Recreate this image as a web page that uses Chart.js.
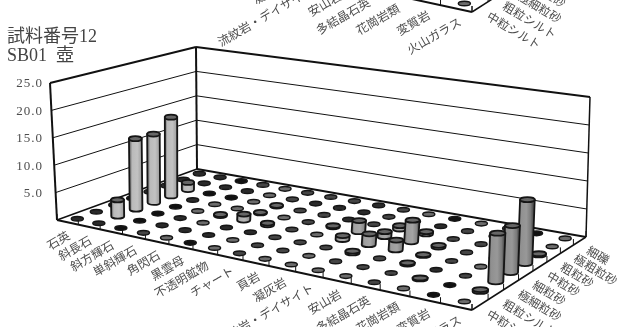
<!DOCTYPE html>
<html>
<head>
<meta charset="utf-8">
<style>
    html, body { margin: 0; padding: 0; background: #fff; overflow: hidden; }
    canvas { display: block; }
</style>
<script src="https://cdn.jsdelivr.net/npm/chart.js@4/dist/chart.umd.min.js"></script>
</head>
<body>
<canvas id="chart" width="619" height="327"></canvas>
<script>
// categories along the front edge, depths going from the front to the back
const categories = ["石英", "斜長石", "斜方輝石", "単斜輝石", "角閃石", "黒雲母", "不透明鉱物", "チャート", "頁岩", "凝灰岩", "流紋岩・デイサイト", "安山岩", "多結晶石英", "花崗岩類", "変質岩", "火山ガラス"];
const depths = ["中粒シルト", "粗粒シルト", "極細粒砂", "細粒砂", "中粒砂", "粗粒砂", "極粗粒砂", "細礫"];

// percent per grain size
const churyuSilt  = [0.03, 0.03, 0, 0.05, 0.08, 0, 0.08, 0.05, 0.08, 0.08, 0.08, 0.08, 0.05, 0.08, 0, 0.08];
const soryuSilt   = [0.03, 3, 0, 0.03, 0.03, 0.03, 0.08, 0.05, 0.05, 0.08, 0.05, 0.05, 0.05, 0.15, 0, 0.3];
const gokusairyu  = [0, 13.2, 0, 0.03, 0.08, 0.03, 0.03, 0.05, 0.05, 0.05, 0.3, 0.05, 0.2, 0.03, 0.05, 7.8];
const sairyu      = [0, 13, 0, 0.08, 0.2, 1.1, 0.3, 0.05, 0.08, 0.7, 1.9, 1.7, 0.12, 0.05, 0.08, 7.7];
const churyu      = [0.03, 15.2, 0.03, 0.08, 0.08, 0.12, 0.08, 0.05, 0.2, 2, 0.9, 3.8, 0.3, 0.05, 0.08, 10.7];
const soryu       = [0.03, 1.4, 0, 0, 0.08, 0.12, 0.05, 0.05, 0.03, 0.05, 0.6, 0.4, 0.05, 0.05, 0.05, 0.2];
const gokusoryu   = [0.03, 0.03, 0.03, 0.03, 0.08, 0.05, 0.03, 0.03, 0.03, 0.05, 0.05, 0.03, 0.05, 0.03, 0.08, 0.08];
const saireki     = [0.03, 0.03, 0, 0.05, 0.08, 0.05, 0.05, 0.05, 0.03, 0.05, 0.08, 0, 0.08, 0.03, 0, 0.08];
const rows = [churyuSilt, soryuSilt, gokusairyu, sairyu, churyu, soryu, gokusoryu, saireki];

// the scan also catches the foot of the previous chart on the sheet
const prevChartFrontRow = [null, null, null, null, null, null, null, null, null, null, null, null, null, null, null, 0.08];

const maxValue = 25;
const SERIF = '"Liberation Serif", "Noto Sans CJK JP", serif';
const LABEL_FONT = '12px "Noto Sans CJK JP", sans-serif';
const TEXT_COLOR = "#4d4d4d";
const PREV_CHART_SHIFT = -298;

// corners of the floor and of the top plane on the canvas: front-left, front-right, back-right, back-left
const floorCorners = [[57, 220], [472, 310], [586, 237], [197, 169]];
const topCorners = [[50, 83], [479, 144], [590, 97], [196, 47]];

function homography(c) {
    const [p0, p1, p2, p3] = c;
    const dx1 = p1[0] - p2[0], dy1 = p1[1] - p2[1];
    const dx2 = p3[0] - p2[0], dy2 = p3[1] - p2[1];
    const sx = p0[0] - p1[0] + p2[0] - p3[0], sy = p0[1] - p1[1] + p2[1] - p3[1];
    const det = dx1 * dy2 - dy1 * dx2;
    const g = (sx * dy2 - sy * dx2) / det;
    const h = (dx1 * sy - dy1 * sx) / det;
    const a = p1[0] - p0[0] + g * p1[0], b = p3[0] - p0[0] + h * p3[0];
    const d = p1[1] - p0[1] + g * p1[1], e = p3[1] - p0[1] + h * p3[1];
    return (u, v) => {
        const w = 1 + g * u + h * v;
        return { x: (p0[0] + a * u + b * v) / w, y: (p0[1] + d * u + e * v) / w, w };
    };
}

const floorAt = homography(floorCorners);
const topAt = homography(topCorners);

function project(u, v, z) {
    const f = floorAt(u, v), t = topAt(u, v);
    return { x: f.x + (t.x - f.x) * z, y: f.y + (t.y - f.y) * z, w: f.w };
}

function line(ctx, a, b, width) {
    ctx.lineWidth = width;
    ctx.beginPath();
    ctx.moveTo(a.x, a.y);
    ctx.lineTo(b.x, b.y);
    ctx.stroke();
}

function drawMarker(ctx, u, v, value, dy) {
    const p = project(u, v, 0);
    const y = p.y + dy;
    ctx.strokeStyle = "#151515";
    ctx.lineWidth = 1.5;
    ctx.fillStyle = value === 0 ? "#111" : (value <= 0.03 ? "#2a2a2a" : (value <= 0.05 ? "#454545" : "#6c6c6c"));
    ctx.beginPath();
    ctx.ellipse(p.x, y, 6, 2.3, 0, 0, Math.PI * 2);
    ctx.fill();
    ctx.stroke();
}

function drawCylinder(ctx, u, v, z) {
    const base = project(u, v, 0), top = project(u, v, z);
    const rx = 6.5 / base.w, ry = 2.5;
    const tone = Math.round(190 - 48 * u);
    const grad = ctx.createLinearGradient(base.x - rx, 0, base.x + rx, 0);
    grad.addColorStop(0, "#6a6a6a");
    grad.addColorStop(0.2, `rgb(${tone},${tone},${tone})`);
    grad.addColorStop(0.6, `rgb(${tone + 8},${tone + 8},${tone + 8})`);
    grad.addColorStop(0.9, `rgb(${tone - 22},${tone - 22},${tone - 22})`);
    grad.addColorStop(1, "#5a5a5a");
    ctx.fillStyle = grad;
    ctx.strokeStyle = "#151515";
    ctx.lineWidth = 1.8;
    ctx.beginPath();
    ctx.moveTo(top.x - rx, top.y);
    ctx.lineTo(base.x - rx, base.y);
    ctx.ellipse(base.x, base.y, rx, ry, 0, Math.PI, 0, true);
    ctx.lineTo(top.x + rx, top.y);
    ctx.closePath();
    ctx.fill();
    ctx.stroke();
    ctx.fillStyle = "#666";
    ctx.beginPath();
    ctx.ellipse(top.x, top.y, rx, ry, 0, 0, Math.PI * 2);
    ctx.fill();
    ctx.stroke();
}

function drawAxisLabels(ctx, dy) {
    ctx.fillStyle = TEXT_COLOR;
    ctx.font = LABEL_FONT;
    ctx.textBaseline = "middle";
    ctx.textAlign = "right";
    categories.forEach((name, c) => {
        const u = (c + 0.5) / categories.length;
        const p = floorAt(u, 0);
        ctx.save();
        ctx.translate(p.x + 1 + 3 * u, p.y + 12 + dy);
        ctx.rotate(-30 * Math.PI / 180);
        ctx.fillText(name, 0, 0);
        ctx.restore();
    });
    ctx.textAlign = "left";
    depths.forEach((name, r) => {
        const p = floorAt(1, (r + 0.5) / depths.length);
        ctx.save();
        ctx.translate(p.x + 8, p.y + 8 + dy);
        ctx.rotate(31 * Math.PI / 180);
        ctx.fillText(name, 0, 0);
        ctx.restore();
    });
}

function drawFrontEdges(ctx, dy) {
    const shift = (p) => ({ x: p.x, y: p.y + dy });
    ctx.strokeStyle = "#111";
    for (let c = 0; c <= categories.length; c++) {
        const p = shift(floorAt(c / categories.length, 0));
        line(ctx, p, { x: p.x, y: p.y - 6 }, 1);
    }
    for (let r = 0; r <= depths.length; r++) {
        const p = shift(floorAt(1, r / depths.length));
        line(ctx, p, { x: p.x, y: p.y - 6 }, 1);
    }
    line(ctx, shift(floorAt(0, 0)), shift(floorAt(1, 0)), 2);
    line(ctx, shift(floorAt(1, 0)), shift(floorAt(1, 1)), 1.5);
}

const floorPlot = {
    id: "floorPlot",
    afterDatasetsDraw(chart) {
        const { ctx, scales } = chart;
        const zScale = scales.z;
        const zAt = (value) => zScale.getDecimalForPixel(zScale.getPixelForValue(value));
        ctx.save();

        // walls
        ctx.strokeStyle = "#111";
        zScale.ticks.forEach((tick) => {
            const z = zAt(tick.value);
            if (z === 0 || z === 1) return;
            line(ctx, project(0, 0, z), project(0, 1, z), 1);
            line(ctx, project(0, 1, z), project(1, 1, z), 1);
        });
        line(ctx, project(0, 0, 1), project(0, 1, 1), 2);
        line(ctx, project(0, 1, 1), project(1, 1, 1), 2);
        line(ctx, project(0, 0, 0), project(0, 0, 1), 2);
        line(ctx, project(0, 1, 0), project(0, 1, 1), 2);
        line(ctx, project(1, 1, 0), project(1, 1, 1), 1.5);
        line(ctx, project(0, 0, 0), project(0, 1, 0), 1.5);
        line(ctx, project(0, 1, 0), project(1, 1, 0), 2);
        drawFrontEdges(ctx, 0);

        // value labels beside the left wall
        ctx.fillStyle = TEXT_COLOR;
        ctx.font = "13px " + SERIF;
        ctx.letterSpacing = "1px";
        ctx.textAlign = "right";
        ctx.textBaseline = "middle";
        zScale.ticks.forEach((tick) => {
            if (tick.value === 0) return;
            ctx.fillText(tick.value.toFixed(1), 43, project(0, 0, zAt(tick.value)).y + 1);
        });
        ctx.letterSpacing = "0px";

        // marks, back row first
        for (let r = chart.data.datasets.length - 1; r >= 0; r--) {
            const meta = chart.getDatasetMeta(r);
            meta.data.forEach((el, c) => {
                const value = chart.data.datasets[r].data[c].z;
                const u = scales.x.getDecimalForPixel(el.x);
                const v = scales.y.getDecimalForPixel(el.y);
                if (value >= 0.1) drawCylinder(ctx, u, v, zAt(value));
                else drawMarker(ctx, u, v, value, 0);
            });
        }
        drawAxisLabels(ctx, 0);

        // foot of the previous chart, cut off by the top of the page
        drawFrontEdges(ctx, PREV_CHART_SHIFT);
        prevChartFrontRow.forEach((value, c) => {
            if (value !== null) drawMarker(ctx, (c + 0.5) / categories.length, 0.5 / depths.length, value, PREV_CHART_SHIFT);
        });
        drawAxisLabels(ctx, PREV_CHART_SHIFT);
        ctx.restore();
    }
};

new Chart(document.getElementById("chart"), {
    type: "scatter",
    data: {
        datasets: rows.map((row, r) => ({
            label: depths[r],
            data: row.map((value, c) => ({ x: c + 0.5, y: r + 0.5, z: value })),
            pointRadius: 0
        }))
    },
    options: {
        responsive: false,
        animation: false,
        events: [],
        layout: { padding: { left: 7 } },
        scales: {
            x: { type: "linear", min: 0, max: categories.length, display: false },
            y: { type: "linear", min: 0, max: depths.length, display: false },
            z: { type: "linear", axis: "y", min: 0, max: maxValue, display: false, ticks: { stepSize: 5 } }
        },
        plugins: {
            legend: { display: false },
            tooltip: { enabled: false },
            title: {
                display: true,
                text: ["試料番号12", "SB01  壺"],
                align: "start",
                color: "#444",
                padding: { top: 28, bottom: 0 },
                font: { family: SERIF, size: 18, weight: "normal", lineHeight: 1.05 }
            }
        }
    },
    plugins: [floorPlot]
});
</script>
</body>
</html>
